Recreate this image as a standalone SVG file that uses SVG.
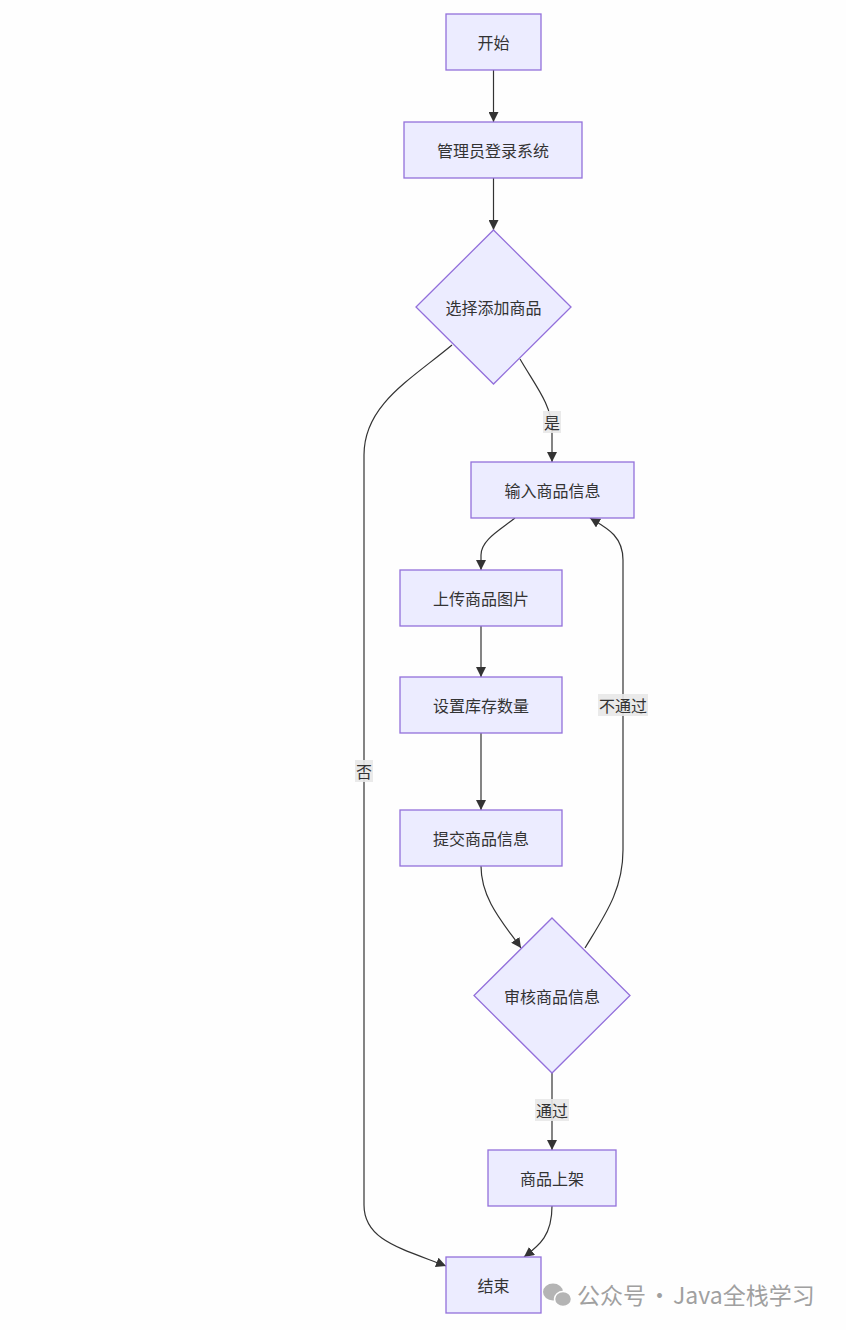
<svg xmlns="http://www.w3.org/2000/svg" width="846" height="1330" viewBox="0 0 846 1330">
<defs>
<style>
.node rect, .node polygon { fill: #ECECFF; stroke: #9370DB; stroke-width: 1.3; }
.node text { font-family: "Noto Sans CJK SC", "Liberation Sans", sans-serif; font-size: 16px; fill: #333; text-anchor: middle; dominant-baseline: central; }
.edge { fill: none; stroke: #333; stroke-width: 1.2; marker-end: url(#arrow); }
.lbl rect { fill: #e8e8e8; opacity: 0.9; }
.lbl text { font-family: "Noto Sans CJK SC", "Liberation Sans", sans-serif; font-size: 16px; fill: #333; text-anchor: middle; dominant-baseline: central; }
.wm { font-family: "Noto Sans CJK SC", "Liberation Sans", sans-serif; font-size: 23px; fill: #a0a0a0; }
</style>
<marker id="arrow" viewBox="0 0 10 10" refX="10" refY="5" markerWidth="10" markerHeight="10" markerUnits="userSpaceOnUse" orient="auto">
<path d="M0,0 L10,5 L0,10 z" fill="#333"/>
</marker>
</defs>
<rect x="0" y="0" width="846" height="1330" fill="#fefefe"/>

<g id="edges">
<path class="edge" d="M493.5,70 L493.5,122"/>
<path class="edge" d="M493.5,178 L493.5,230"/>
<path class="edge" d="M520,359 C535,385 552,405 552,430 L552,462"/>
<path class="edge" d="M452,345 C410,380 364,405 364,455 L364,1205 C364,1240 400,1248 446,1266"/>
<path class="edge" d="M515,518 C500,530 481,540 481,555 L481,570"/>
<path class="edge" d="M481,626 L481,677"/>
<path class="edge" d="M481,733 L481,810"/>
<path class="edge" d="M481,866 C481,900 505,925 521,948"/>
<path class="edge" d="M585,948 C605,915 623,890 623,850 L623,560 C623,535 605,527 590,518"/>
<path class="edge" d="M552,1073 L552,1150"/>
<path class="edge" d="M552,1206 C552,1235 540,1245 524,1257"/>
</g>

<g id="edge-labels">
<g class="lbl"><rect x="543" y="411" width="18" height="22"/><text x="552" y="422">是</text></g>
<g class="lbl"><rect x="355" y="760" width="18" height="22"/><text x="364" y="771">否</text></g>
<g class="lbl"><rect x="598" y="694" width="50" height="22"/><text x="623" y="705">不通过</text></g>
<g class="lbl"><rect x="535" y="1099" width="34" height="22"/><text x="552" y="1110">通过</text></g>
</g>

<g id="n-start" class="node"><rect x="446" y="14" width="95" height="56"/><text x="493.5" y="42">开始</text></g>
<g id="n-login" class="node"><rect x="404" y="122" width="178" height="56"/><text x="493" y="150">管理员登录系统</text></g>
<g id="n-choose" class="node"><polygon points="493.5,230 571,307 493.5,384 416,307"/><text x="493.5" y="307">选择添加商品</text></g>
<g id="n-input" class="node"><rect x="471" y="462" width="163" height="56"/><text x="552.5" y="490">输入商品信息</text></g>
<g id="n-upload" class="node"><rect x="400" y="570" width="162" height="56"/><text x="481" y="598">上传商品图片</text></g>
<g id="n-stock" class="node"><rect x="400" y="677" width="162" height="56"/><text x="481" y="705">设置库存数量</text></g>
<g id="n-submit" class="node"><rect x="400" y="810" width="162" height="56"/><text x="481" y="838">提交商品信息</text></g>
<g id="n-review" class="node"><polygon points="552,918 630,995.5 552,1073 474,995.5"/><text x="552" y="995.5">审核商品信息</text></g>
<g id="n-shelf" class="node"><rect x="488" y="1150" width="128" height="56"/><text x="552" y="1178">商品上架</text></g>
<g id="n-end" class="node"><rect x="446" y="1257" width="95" height="56"/><text x="493.5" y="1285">结束</text></g>

<g id="watermark">
<ellipse cx="553" cy="1292" rx="10" ry="8.5" fill="#b4b4b4"/>
<ellipse cx="563" cy="1299" rx="8.5" ry="7.5" fill="#b4b4b4" stroke="#fefefe" stroke-width="1.5"/>
<text class="wm" x="577" y="1304">公众号<tspan dx="2">·</tspan><tspan dx="2">Java全栈学习</tspan></text>
</g>
</svg>
